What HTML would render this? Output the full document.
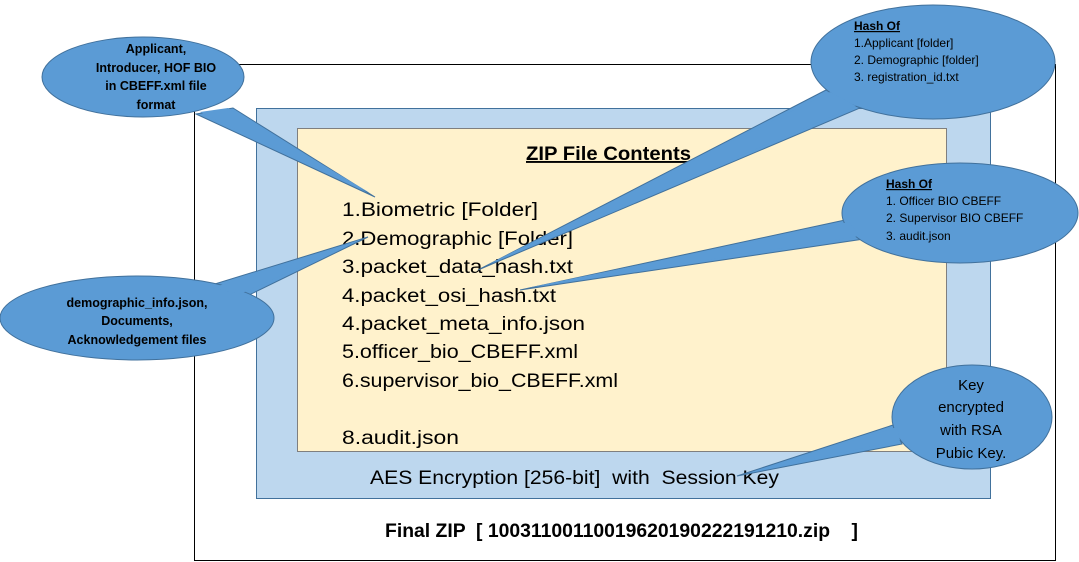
<!DOCTYPE html>
<html><head><meta charset="utf-8"><style>
html,body{margin:0;padding:0;background:#fff;}
svg{display:block;font-family:"Liberation Sans",sans-serif;}
</style></head><body>
<svg width="1079" height="562" viewBox="0 0 1079 562" xmlns="http://www.w3.org/2000/svg">
<rect x="194.5" y="64.5" width="861" height="496" fill="#fff" stroke="#000" stroke-width="1"/>
<rect x="256.5" y="108.5" width="734" height="390" fill="#bdd7ee" stroke="#41719c" stroke-width="1"/>
<rect x="297.5" y="128.5" width="649" height="323" fill="#fff2cc" stroke="#7f7f7f" stroke-width="1"/>

<g font-size="19" fill="#000">
<text x="526" y="160" font-weight="bold" font-size="19" textLength="165" lengthAdjust="spacingAndGlyphs" text-decoration="underline">ZIP File Contents</text>
<text x="342" y="216" textLength="196" lengthAdjust="spacingAndGlyphs">1.Biometric [Folder]</text>
<text x="342" y="245" textLength="231" lengthAdjust="spacingAndGlyphs">2.Demographic [Folder]</text>
<text x="342" y="273" textLength="231" lengthAdjust="spacingAndGlyphs">3.packet_data_hash.txt</text>
<text x="342" y="302" textLength="214" lengthAdjust="spacingAndGlyphs">4.packet_osi_hash.txt</text>
<text x="342" y="330" textLength="243" lengthAdjust="spacingAndGlyphs">4.packet_meta_info.json</text>
<text x="342" y="358" textLength="236" lengthAdjust="spacingAndGlyphs">5.officer_bio_CBEFF.xml</text>
<text x="342" y="387" textLength="276" lengthAdjust="spacingAndGlyphs">6.supervisor_bio_CBEFF.xml</text>
<text x="342" y="444" textLength="117" lengthAdjust="spacingAndGlyphs">8.audit.json</text>
<text x="370" y="484" xml:space="preserve" textLength="409" lengthAdjust="spacingAndGlyphs">AES Encryption [256-bit]  with  Session Key</text>
<text x="385" y="537" xml:space="preserve" font-weight="bold" textLength="473" lengthAdjust="spacingAndGlyphs">Final ZIP  [ 10031100110019620190222191210.zip    ]</text>
</g>

<g fill="#5b9bd5" stroke="#41719c" stroke-width="1">
<path d="M196,114 L375,197 L233,108 Z"/>
<ellipse cx="143" cy="77" rx="101" ry="40"/>
<path d="M205,287 L368,237 L245,297 Z"/>
<ellipse cx="137" cy="318" rx="137" ry="42"/>
<path d="M826,90 L478,270 L860,108 Z"/>
<ellipse cx="933" cy="62" rx="122" ry="57"/>
<path d="M845,220 L520,290 L864,239 Z"/>
<ellipse cx="960" cy="213" rx="118" ry="50"/>
<path d="M893,425 L737,476 L902,444 Z"/>
<ellipse cx="972" cy="417" rx="80" ry="52"/>
</g>
<g fill="#5b9bd5">
<path d="M200,112 L370,193 L228,108 Z"/>
<path d="M212,288 L362,239 L240,294 Z"/>
<path d="M830,92 L485,266 L856,106 Z"/>
<path d="M849,222 L527,288 L860,236 Z"/>
<path d="M897,427 L745,474 L900,440 Z"/>
</g>

<g font-size="12.5" font-weight="bold" fill="#000" text-anchor="middle">
<text x="156" y="53">Applicant,</text>
<text x="156" y="72">Introducer, HOF BIO</text>
<text x="156" y="90">in CBEFF.xml  file</text>
<text x="156" y="109">format</text>
<text x="137" y="307">demographic_info.json,</text>
<text x="137" y="325">Documents,</text>
<text x="137" y="344">Acknowledgement files</text>
</g>
<g font-size="12" fill="#000">
<text x="854" y="30" font-weight="bold" text-decoration="underline">Hash Of</text>
<text x="854" y="47">1.Applicant [folder]</text>
<text x="854" y="64">2. Demographic [folder]</text>
<text x="854" y="81">3. registration_id.txt</text>
<text x="886" y="188" font-weight="bold" text-decoration="underline">Hash Of</text>
<text x="886" y="205">1. Officer BIO CBEFF</text>
<text x="886" y="222">2. Supervisor BIO CBEFF</text>
<text x="886" y="240">3. audit.json</text>
</g>
<g font-size="15" fill="#000" text-anchor="middle">
<text x="971" y="390">Key</text>
<text x="971" y="412">encrypted</text>
<text x="971" y="435">with RSA</text>
<text x="971" y="458">Pubic Key.</text>
</g>
</svg>
</body></html>
